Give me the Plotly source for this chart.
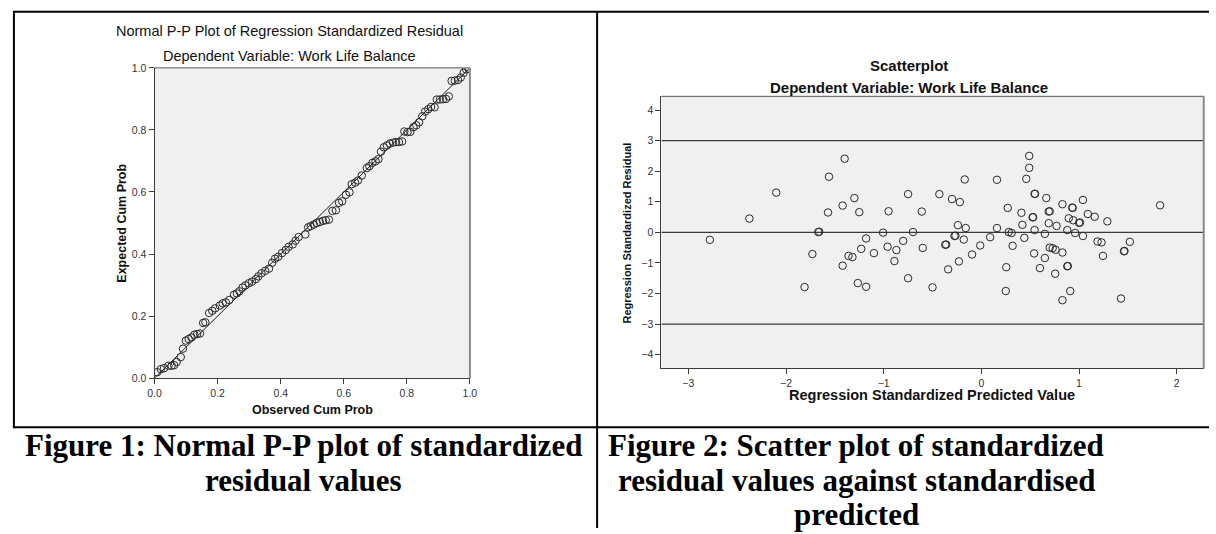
import plotly.graph_objects as go

W, H = 1216, 534


def px(x):
    return x / W


def py(y):
    return 1 - y / H


# ---------------- data: Normal P-P plot ----------------
pp_observed = [0.008, 0.020, 0.030, 0.044, 0.054, 0.062, 0.070, 0.083, 0.090, 0.099,
               0.108, 0.117, 0.126, 0.135, 0.144, 0.154, 0.161, 0.173, 0.183, 0.192,
               0.207, 0.216, 0.226, 0.237, 0.252, 0.261, 0.269, 0.279, 0.288, 0.299,
               0.309, 0.321, 0.329, 0.339, 0.351, 0.363, 0.373, 0.382, 0.392, 0.404,
               0.416, 0.425, 0.438, 0.447, 0.457, 0.478, 0.487, 0.495, 0.505, 0.514,
               0.524, 0.534, 0.543, 0.553, 0.564, 0.575, 0.585, 0.595, 0.607, 0.618,
               0.625, 0.636, 0.645, 0.657, 0.673, 0.681, 0.691, 0.701, 0.710, 0.718,
               0.727, 0.737, 0.746, 0.756, 0.766, 0.775, 0.785, 0.792, 0.802, 0.811,
               0.821, 0.830, 0.839, 0.849, 0.858, 0.868, 0.877, 0.888, 0.895, 0.905,
               0.915, 0.924, 0.933, 0.942, 0.952, 0.962, 0.971, 0.980, 0.988, 0.996]
pp_expected = [0.019, 0.029, 0.032, 0.040, 0.040, 0.042, 0.052, 0.068, 0.095, 0.121,
               0.126, 0.131, 0.140, 0.142, 0.144, 0.178, 0.180, 0.210, 0.217, 0.225,
               0.234, 0.241, 0.244, 0.252, 0.269, 0.273, 0.280, 0.292, 0.299, 0.306,
               0.311, 0.319, 0.328, 0.338, 0.346, 0.353, 0.372, 0.385, 0.391, 0.403,
               0.413, 0.423, 0.431, 0.443, 0.455, 0.463, 0.486, 0.490, 0.495, 0.500,
               0.503, 0.507, 0.509, 0.511, 0.539, 0.541, 0.565, 0.570, 0.591, 0.599,
               0.625, 0.630, 0.637, 0.653, 0.677, 0.683, 0.694, 0.699, 0.706, 0.730,
               0.744, 0.750, 0.756, 0.759, 0.761, 0.761, 0.763, 0.795, 0.793, 0.794,
               0.809, 0.815, 0.825, 0.844, 0.859, 0.867, 0.874, 0.873, 0.898, 0.898,
               0.899, 0.900, 0.908, 0.958, 0.959, 0.961, 0.969, 0.984, 0.995, 0.997]
pp_ref_x = [0.0, 1.0]
pp_ref_y = [0.0, 1.0]
pp_ticks = [0.0, 0.2, 0.4, 0.6, 0.8, 1.0]

# ---------------- data: residual scatterplot ----------------
pred = [-2.78, -2.375, -2.10, -1.81, -1.73, -1.67, -1.66, -1.56, -1.57, -1.42,
        -1.42, -1.40, -1.36, -1.32, -1.30, -1.265, -1.25, -1.23, -1.18, -1.18,
        -1.10, -1.006, -0.96, -0.95, -0.89, -0.87, -0.80, -0.75, -0.75, -0.70,
        -0.61, -0.60, -0.50, -0.43, -0.37, -0.36, -0.34, -0.30, -0.275, -0.265,
        -0.24, -0.23, -0.22, -0.18, -0.17, -0.16, -0.095, -0.012, 0.09, 0.16,
        0.16, 0.255, 0.25, 0.27, 0.28, 0.31, 0.32, 0.41, 0.42, 0.44,
        0.46, 0.49, 0.49, 0.525, 0.53, 0.54, 0.545, 0.55, 0.545, 0.60,
        0.65, 0.65, 0.665, 0.69, 0.69, 0.70, 0.70, 0.73, 0.76, 0.756,
        0.77, 0.83, 0.83, 0.83, 0.88, 0.88, 0.885, 0.895, 0.91, 0.93,
        0.935, 0.94, 0.96, 1.00, 1.01, 1.04, 1.04, 1.09, 1.16, 1.19,
        1.23, 1.245, 1.29, 1.43, 1.46, 1.465, 1.52, 1.83]
resid = [-0.245, 0.45, 1.30, -1.79, -0.71, 0.01, 0.02, 1.82, 0.65, -1.09,
         0.875, 2.41, -0.77, -0.81, 1.12, -1.66, 0.66, -0.54, -0.20, -1.78,
         -0.68, -0.01, -0.47, 0.69, -0.94, -0.58, -0.28, 1.25, -1.50, 0.01,
         0.68, -0.51, -1.80, 1.25, -0.405, -0.40, -1.21, 1.09, -0.12, -0.11,
         0.235, -0.95, 0.99, -0.235, 1.73, 0.14, -0.725, -0.43, -0.16, 0.14,
         1.72, -1.14, -1.92, 0.80, 0.01, -0.02, -0.44, 0.64, 0.245, -0.18,
         1.75, 2.50, 2.11, 0.49, 0.50, -0.69, 1.26, 1.26, 0.075, -1.17,
         -0.05, -0.84, 1.12, 0.30, 0.68, 0.69, -0.50, -0.52, -0.57, -1.355,
         0.21, 0.92, -0.66, -2.22, 0.075, -1.11, -1.10, 0.46, -1.92, 0.81,
         0.80, 0.395, -0.02, 0.31, 0.32, -0.12, 1.06, 0.60, 0.51, -0.30,
         -0.33, -0.77, 0.36, -2.165, -0.62, -0.61, -0.31, 0.885]
ref_resid_lines = [-3, 0, 3]
sc_xticks = [-3, -2, -1, 0, 1, 2]
sc_yticks = [-4, -3, -2, -1, 0, 1, 2, 3, 4]

# ---------------- text ----------------
pp_title = "Normal P-P Plot of Regression Standardized Residual"
pp_subtitle = "Dependent Variable: Work Life Balance"
pp_xtitle = "Observed Cum Prob"
pp_ytitle = "Expected Cum Prob"
sc_title = "Scatterplot"
sc_subtitle = "Dependent Variable: Work Life Balance"
sc_xtitle = "Regression Standardized Predicted Value"
sc_ytitle = "Regression Standardized Residual"
caption1 = ["Figure 1: Normal P-P plot of standardized", "residual values"]
caption2 = ["Figure 2: Scatter plot of standardized",
            "residual values against standardised", "predicted"]

SANS = "Liberation Sans, Arial, sans-serif"
SERIF = "Liberation Serif, Times New Roman, serif"
MARK = dict(symbol="circle-open", size=7.5, color="#2a2a2a", line=dict(width=1, color="#2a2a2a"))

fig = go.Figure()

# P-P plot
fig.add_trace(go.Scatter(x=pp_ref_x, y=pp_ref_y, mode="lines",
                         line=dict(color="#1a1a1a", width=1), xaxis="x", yaxis="y",
                         hoverinfo="skip"))
fig.add_trace(go.Scatter(x=pp_observed, y=pp_expected, mode="markers", marker=MARK,
                         xaxis="x", yaxis="y"))

# Scatterplot
SC_XR = [-3.276, 2.277]
for r in ref_resid_lines:
    fig.add_trace(go.Scatter(x=SC_XR, y=[r, r], mode="lines",
                             line=dict(color="#3a3a3a", width=1.2), xaxis="x2", yaxis="y2",
                             hoverinfo="skip"))
fig.add_trace(go.Scatter(x=pred, y=resid, mode="markers", marker=MARK,
                         xaxis="x2", yaxis="y2"))

axis_common = dict(showgrid=False, zeroline=False, showline=True, linecolor="#3c3c3c",
                   linewidth=1, ticks="outside", ticklen=5, tickcolor="#3c3c3c",
                   tickwidth=1, tickfont=dict(family=SANS, size=10.5, color="#333333"))

fig.update_layout(
    width=W, height=H, margin=dict(l=0, r=0, t=0, b=0),
    paper_bgcolor="white", plot_bgcolor="#f0f0f0", showlegend=False, hovermode=False,
    xaxis=dict(domain=[px(149.3), px(468.3)], range=[0, 1], tickvals=pp_ticks,
               tickformat=".1f", anchor="y", **axis_common),
    yaxis=dict(domain=[py(380.7), py(63.3)], range=[0, 1], tickvals=pp_ticks,
               tickformat=".1f", anchor="x", **axis_common),
    xaxis2=dict(domain=[px(662), px(1210.7)], range=SC_XR, tickvals=sc_xticks,
                anchor="y2", **axis_common),
    yaxis2=dict(domain=[py(370.7), py(92.4)], range=[-4.45, 4.45], tickvals=sc_yticks,
                anchor="x2", **axis_common),
)

shapes = []
# plot frames (top dark, right grey)
for xa, ya in (("x", "y"), ("x2", "y2")):
    shapes.append(dict(type="line", xref=f"{xa} domain", yref=f"{ya} domain",
                       x0=0, x1=1, y0=1, y1=1, line=dict(color="#555555", width=1)))
    shapes.append(dict(type="line", xref=f"{xa} domain", yref=f"{ya} domain",
                       x0=1, x1=1, y0=0, y1=1, line=dict(color="#8a8a8a", width=2)))


# table borders
def pline(x0, y0, x1, y1, w=2):
    return dict(type="line", xref="paper", yref="paper", x0=px(x0), x1=px(x1),
                y0=py(y0), y1=py(y1), line=dict(color="black", width=w))


shapes += [pline(6, 6, 1216, 6), pline(7, 6, 7, 431), pline(597, 6, 597, 534),
           pline(6, 431, 1216, 431)]
fig.update_layout(shapes=shapes)

ann = []


def text(t, x, y, size, bold=False, family=SANS, color="#111111", angle=0):
    ann.append(dict(text=f"<b>{t}</b>" if bold else t, x=px(x), y=py(y), xref="paper",
                    yref="paper", showarrow=False, xanchor="center", yanchor="middle",
                    textangle=angle, font=dict(family=family, size=size, color=color)))


text(pp_title, 286, 26, 14.5)
text(pp_subtitle, 286, 51, 14.5)
text(pp_xtitle, 309, 413, 12.5, bold=True)
text(pp_ytitle, 116, 222, 12.5, bold=True, angle=-90)

text(sc_title, 912, 61, 15, bold=True)
text(sc_subtitle, 912, 83, 15, bold=True)
text(sc_xtitle, 936, 398, 14.5, bold=True)
text(sc_ytitle, 627, 232, 11, bold=True, angle=-90)

for i, line in enumerate(caption1):
    text(line, 300, 450 + 35 * i, 31, bold=True, family=SERIF, color="black")
for i, line in enumerate(caption2):
    text(line, 859, 450 + 35 * i, 31, bold=True, family=SERIF, color="black")

fig.update_layout(annotations=ann)
fig.write_html("out.html", config={"displayModeBar": False, "staticPlot": True},
               post_script="document.body.style.margin='0';document.body.style.overflow='hidden';")
